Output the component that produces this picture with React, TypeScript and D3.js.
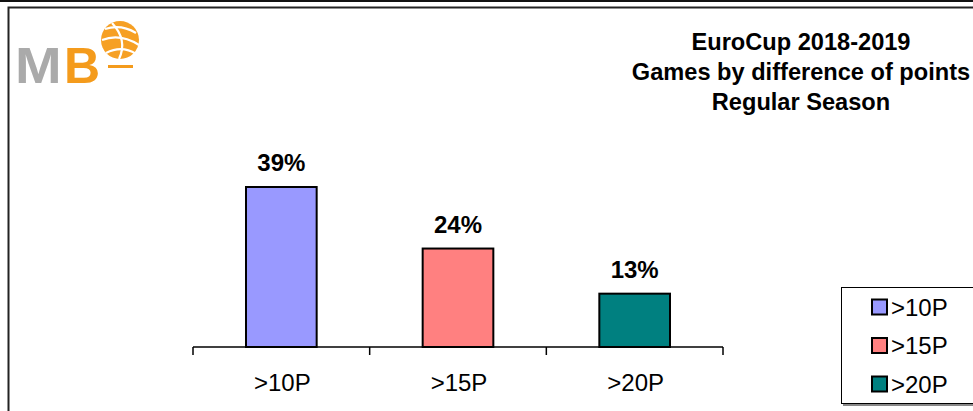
import * as d3 from "d3";

const categories = [">10P", ">15P", ">20P"];
const values = [39, 24, 13];
const colors = ["#9999ff", "#ff8080", "#008080"];
const titleLines = ["EuroCup 2018-2019", "Games by difference of points", "Regular Season"];

const W = 973;
const H = 411;
const AXIS_Y = 347;
const FONT = "'Liberation Sans', Arial, sans-serif";

export default function App() {
  const x = d3.scaleBand().domain(categories).range([193, 723]).padding(0);
  const y = d3.scaleLinear().domain([0, 39]).range([AXIS_Y, 187]);
  const barW = x.bandwidth() * 0.4;
  const ticks = [...categories.map((c) => x(c) ?? 0), 723];

  return (
    <div style={{ position: "absolute", left: 0, top: 0 }}>
      <svg width={W} height={H} style={{ display: "block", background: "#fff" }} fontFamily={FONT}>
        {/* outer lines */}
        <line x1={0} x2={W} y1={1} y2={1} stroke="#111" strokeWidth={2} />
        <rect x={8.5} y={7.5} width={W + 20} height={H + 20} fill="none" stroke="#222" strokeWidth={2} />

        {/* logo */}
        <g>
          <text transform="translate(15,83) scale(1.12,1)" fontSize={50} fontWeight="bold" fill="#aaaaaa">M</text>
          <text transform="translate(64,83)" fontSize={50} fontWeight="bold" fill="#f49b1c">B</text>
          <circle cx={120} cy={40} r={19} fill="#f6a024" />
          <path d="M105,29 Q121,24 136,33" stroke="#fff" strokeWidth={2.2} fill="none" />
          <path d="M102,40 Q120,33 139,45" stroke="#fff" strokeWidth={2.2} fill="none" />
          <path d="M106,53 Q122,45 136,54" stroke="#fff" strokeWidth={2.2} fill="none" />
          <path d="M112,23 Q128,40 119,59" stroke="#fff" strokeWidth={2.2} fill="none" />
          <rect x={108} y={65} width={25} height={3} fill="#f49b1c" />
        </g>

        {/* title */}
        {titleLines.map((t, i) => (
          <text key={i} x={801} y={50 + i * 30} textAnchor="middle" fontSize={23.6} fontWeight="bold" fill="#000">
            {t}
          </text>
        ))}

        {/* bars */}
        {categories.map((c, i) => {
          const cx = (x(c) ?? 0) + x.bandwidth() / 2;
          const top = y(values[i]);
          return (
            <g key={c}>
              <rect
                x={cx - barW / 2}
                y={top}
                width={barW}
                height={AXIS_Y - top}
                fill={colors[i]}
                stroke="#000"
                strokeWidth={2}
              />
              <text x={cx} y={top - 16} textAnchor="middle" fontSize={24} fontWeight="bold" fill="#000">
                {values[i]}%
              </text>
              <text x={cx + 1} y={391} textAnchor="middle" fontSize={24} fill="#000">
                {c}
              </text>
            </g>
          );
        })}

        {/* axis */}
        <line x1={193} x2={723} y1={AXIS_Y} y2={AXIS_Y} stroke="#000" strokeWidth={1.5} />
        {ticks.map((t, i) => (
          <line key={i} x1={t} x2={t} y1={AXIS_Y} y2={AXIS_Y + 8} stroke="#000" strokeWidth={1.5} />
        ))}

        {/* legend */}
        <rect x={843} y={290} width={140} height={116} fill="#888" />
        <rect x={841.5} y={287.5} width={140} height={116} fill="#fff" stroke="#000" strokeWidth={1} />
        {categories.map((c, i) => (
          <g key={c} transform={`translate(0,${307 + i * 38.5})`}>
            <rect x={872} y={-7.5} width={15} height={15} fill={colors[i]} stroke="#000" strokeWidth={2} />
            <text x={891} y={8.5} fontSize={24} fill="#000">{c}</text>
          </g>
        ))}
      </svg>
    </div>
  );
}
